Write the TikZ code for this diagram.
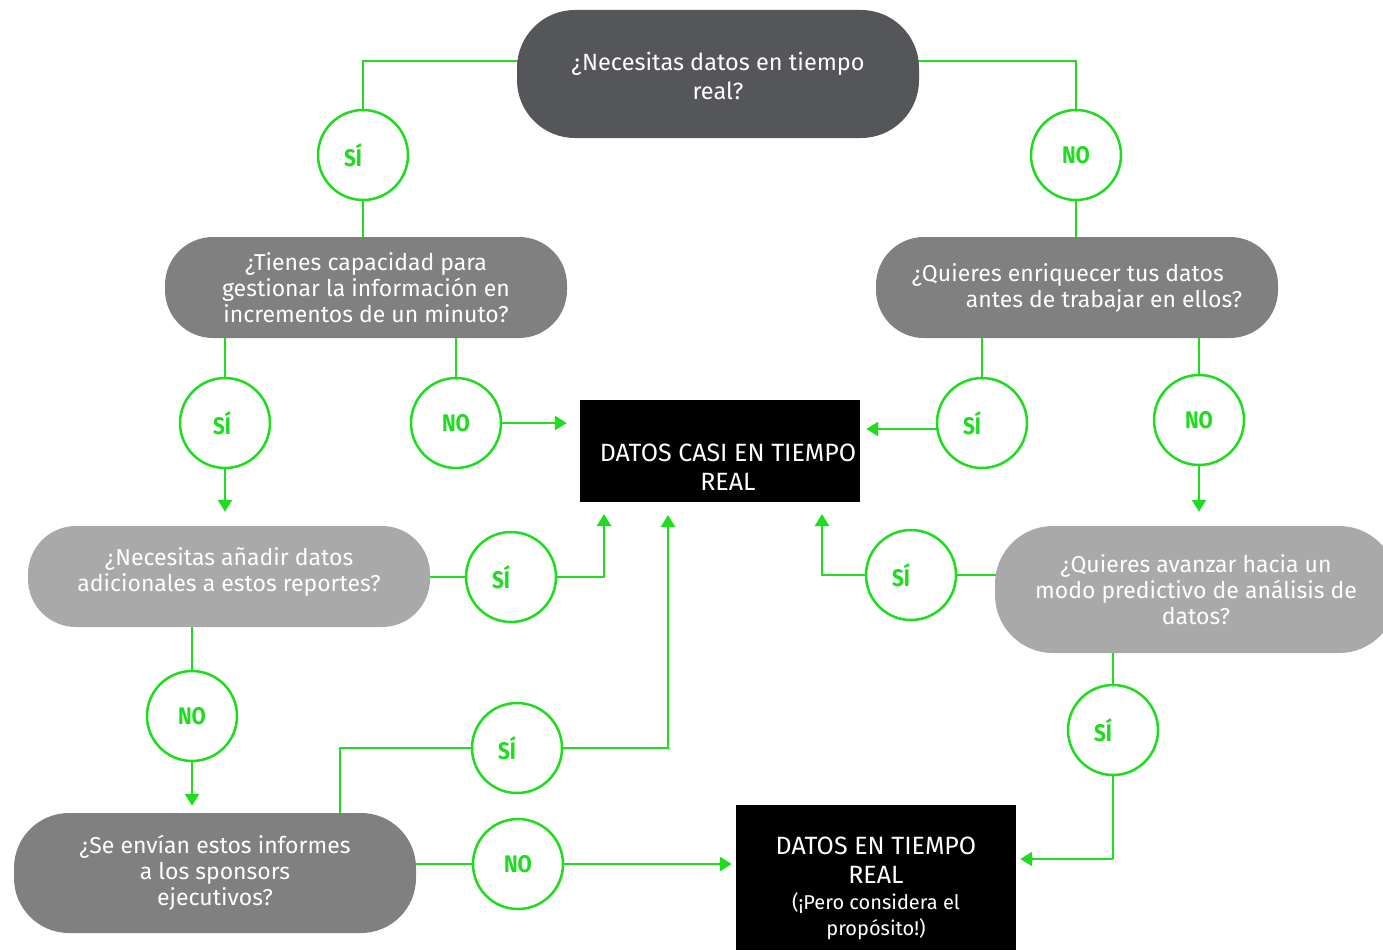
\documentclass[tikz,border=0pt]{standalone}
\usepackage{fontspec}
\setmainfont{Fira Sans}
\usepackage{graphicx}
\usetikzlibrary{arrows.meta,backgrounds}
\definecolor{gD}{HTML}{55565A}
\definecolor{gM}{HTML}{808080}
\definecolor{gL}{HTML}{A9A9A9}
\definecolor{grn}{HTML}{1EDC1E}
\newcommand{\ansl}[1]{\scalebox{0.86}[1]{#1}}
\newcommand{\ansyes}[1][20pt]{\scalebox{0.86}[1]{SÍ}\hspace*{#1}}
\newcommand{\movebox}[2]{\raisebox{#1}[0pt][0pt]{\begin{tabular}{@{}c@{}}#2\end{tabular}}}
\begin{document}
\begin{tikzpicture}[x=1pt,y=-1pt,
  pill/.style={fill=#1, text=white, rounded corners=48pt, minimum width=402pt,
    inner sep=0pt, align=center, font=\fontsize{23}{26}\selectfont},
  blackbox/.style={fill=black, text=white, minimum width=280pt, inner sep=0pt,
    align=center, font=\fontsize{25}{29}\selectfont},
  ans/.style={circle, draw=grn, line width=2.5pt, fill=white, minimum size=90pt,
    inner sep=0pt, text=grn, font=\fontsize{24}{24}\selectfont\bfseries},
  conn/.style={draw=grn, line width=2.5pt},
  arr/.style={conn, -{Triangle[width=14pt,length=12pt]}}
]
\useasboundingbox (0,0) rectangle (1383,950);
\clip (0,0) rectangle (1383,950);

% question nodes
\node[pill=gD, minimum height=128pt, rounded corners=58pt, font=\fontsize{23.5}{29}\selectfont]
  (N1) at (718,74) {\movebox{-11.5pt}{¿Necesitas datos en tiempo\\real?}};
\node[pill=gM, minimum height=101pt] (N2) at (366,287.5)
  {¿Tienes capacidad para\\gestionar la información en\\incrementos de un minuto?};
\node[pill=gM, minimum height=101pt, align=left] (N3) at (1077,287.5)
  {¿Quieres enriquecer tus datos\\\hspace*{54pt}antes de trabajar en ellos?};
\node[pill=gL, minimum height=101pt] (N4) at (229,576.5)
  {\movebox{-3pt}{¿Necesitas añadir datos\\adicionales a estos reportes?}};
\node[pill=gM, minimum height=120pt, rounded corners=55pt] (N5) at (215,873)
  {¿Se envían estos informes\\a los sponsors\\ejecutivos?};
\node[pill=gL, minimum height=127pt, rounded corners=58pt] (N6) at (1196,589.5)
  {¿Quieres avanzar hacia un\\modo predictivo de análisis de\\datos?};

% result nodes
\node[blackbox, minimum height=102pt] (B1) at (720,451)
  {\hspace*{16pt}\movebox{-25pt}{DATOS CASI EN TIEMPO\\REAL}};
\node[blackbox, minimum height=145pt] (B2) at (876,877.5)
  {\movebox{-18pt}{DATOS EN TIEMPO\\REAL\\[-3pt]
   {\fontsize{20}{24}\selectfont (¡Pero considera el}\\[-3pt]
   {\fontsize{20}{24}\selectfont propósito!)}}};

% answer circles
\node[ans] (c1) at (363,155) {\ansyes};
\node[ans] (c2) at (1076,155) {\ansl{NO}};
\node[ans] (c3) at (225,423) {\ansyes[6pt]};
\node[ans] (c4) at (456,423) {\ansl{NO}};
\node[ans] (c5) at (982,423) {\ansyes};
\node[ans] (c6) at (1199,420) {\ansl{NO}};
\node[ans] (c7) at (511,577) {\ansyes};
\node[ans] (c8) at (192,716) {\ansl{NO}};
\node[ans] (c9) at (517,748) {\ansyes};
\node[ans] (c10) at (518,864) {\ansl{NO}};
\node[ans] (c11) at (911,575) {\ansyes};
\node[ans] (c12) at (1113,730) {\ansyes};

% free ends
\coordinate (t1) at (604,514);
\coordinate (t2) at (668,515);
\coordinate (t3) at (822,514);
\coordinate (k9) at (340,748);
\coordinate (k12) at (1113,859);

\begin{scope}[on background layer]
\fill[white] (0,0) rectangle (1383,950);
\draw[conn] ([yshift=13pt]N1.center) -| (c1.center) -- (c1.center |- N2.center);
\draw[conn] ([yshift=13pt]N1.center) -| (c2.center) -- (c2.center |- N3.center);
\draw[conn] (N2.center -| c3) -- (c3.center);
\draw[arr] (c3.south) -- ([yshift=14pt]N4.north -| c3.south);
\draw[conn] (N2.center -| c4) -- (c4.center);
\draw[arr] (c4.east) -- ([xshift=-13pt]B1.west |- c4.east);
\draw[conn] (N3.center -| c5) -- (c5.center);
\draw[arr] ([yshift=-6pt]c5.center) -- ([xshift=6pt,yshift=-6pt]B1.east |- c5.center);
\draw[conn] (N3.center -| c6) -- (c6.center);
\draw[arr] (c6.south) -- ([yshift=14pt]N6.north -| c6.south);
\draw[conn] (N4.center |- c7) -- (c7.center);
\draw[arr] (c7.center) -| (t1);
\draw[conn] (N4.center -| c8) -- (c8.center);
\draw[arr] (c8.south) -- ([yshift=7pt]N5.north -| c8.south);
\draw[conn] (k9 |- N5.center) -- (k9) -- (c9.center);
\draw[arr] (c9.center) -| (t2);
\draw[conn] (N5.center |- c10) -- (c10.center);
\draw[arr] (c10.east) -- ([xshift=-4pt]B2.west |- c10.east);
\draw[conn] (N6.center |- c11) -- (c11.center);
\draw[arr] (c11.center) -| (t3);
\draw[conn] (N6.center -| c12) -- (c12.center) -- (k12);
\draw[arr] (k12) -- ([xshift=4pt]B2.east |- k12);
\end{scope}
\end{tikzpicture}
\end{document}
